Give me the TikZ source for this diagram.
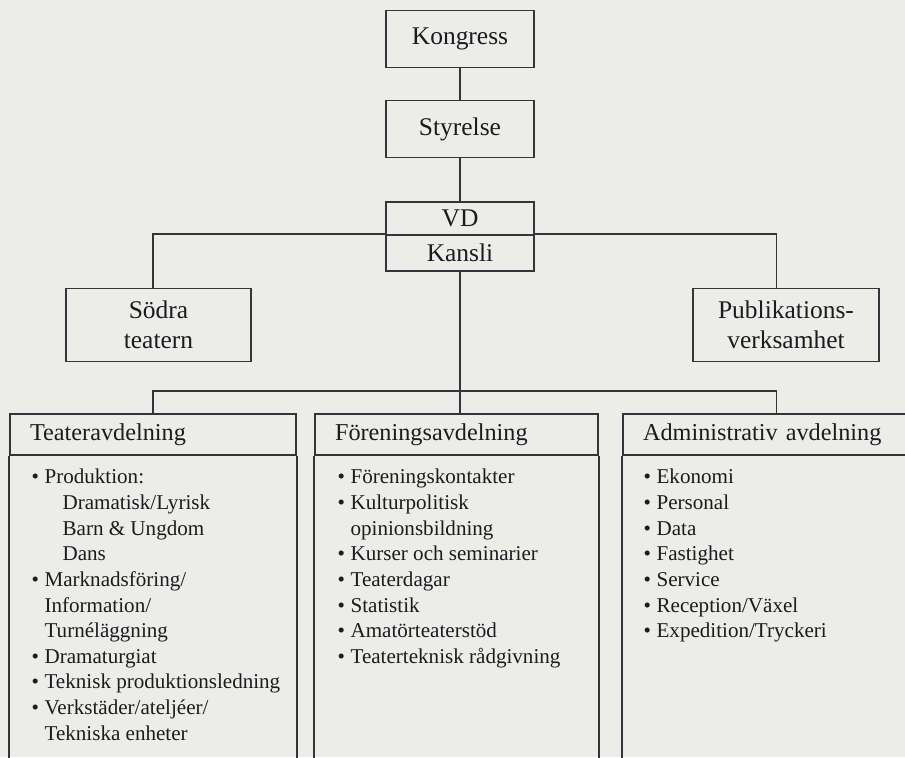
\documentclass[tikz,border=0pt]{standalone}
\usepackage{fontspec}
\setmainfont{Liberation Serif}
\usetikzlibrary{positioning}

\definecolor{paper}{RGB}{236,236,233}
\definecolor{ink}{RGB}{30,26,32}
\definecolor{rule}{RGB}{56,50,60}

\newcommand{\bul}{\makebox[0.26cm][l]{\textbullet}}
\newcommand{\cont}{\hspace*{0.26cm}}
\newcommand{\subind}{\hspace*{0.62cm}}

\begin{document}
\begin{tikzpicture}[x=0.02cm,y=-0.02cm]
  \tikzstyle{unit}=[rectangle,draw=rule,line width=0.9pt,minimum width=2.96cm,inner sep=0pt,
    text=ink,font=\fontsize{14.5}{17}\selectfont,align=center]
  \tikzstyle{head}=[rectangle,draw=rule,line width=0.9pt,minimum height=0.82cm,inner xsep=0.4cm,
    inner ysep=0pt,text=ink,font=\fontsize{13.8}{16}\selectfont,align=left]
  \tikzstyle{items}=[anchor=north west,inner sep=0pt,text=ink,font=\fontsize{12}{14.6}\selectfont,align=left]
  \tikzstyle{link}=[draw=rule,line width=0.9pt]

  \useasboundingbox (0,0) rectangle (905,757);
  \fill[paper] (0,0) rectangle (905,757);
  \clip (0,0) rectangle (905,757);

  % ledning
  \node[unit,minimum height=1.14cm] (kongress) at (460,39) {Kongress};
  \node[unit,minimum height=1.14cm] (styrelse) at (460,129) {Styrelse};
  \node[unit,minimum height=0.66cm] (vd) at (460,218.5) {VD};
  \node[unit,minimum height=0.72cm] (kansli) at (460,253) {Kansli};
  \node[unit,minimum width=3.7cm,minimum height=1.46cm] (sodra) at (158.5,325) {Södra\\teatern};
  \node[unit,minimum width=3.72cm,minimum height=1.46cm] (publ) at (786,325) {Publikations-\\verksamhet};

  % avdelningar
  \node[head,text width=4.92cm] (teaterhead) at (153,434.5) {Teateravdelning};
  \node[head,text width=4.86cm] (forhead) at (456.5,434.5) {Föreningsavdelning};
  \node[head,text width=5.34cm] (adminhead) at (776.5,434.5) {Administrativ avdelning};
  \foreach \d in {teaterhead,forhead,adminhead} {
    \draw[link] (\d.south west) -- ++(0,340);
    \draw[link] (\d.south east) -- ++(0,340);
  }

  \node[items] (teaterlist) at ([xshift=0.44cm,yshift=-0.26cm]teaterhead.south west)
    {\bul Produktion:\\
     \subind Dramatisk/Lyrisk\\
     \subind Barn \& Ungdom\\
     \subind Dans\\
     \bul Marknadsföring/\\
     \cont Information/\\
     \cont Turnéläggning\\
     \bul Dramaturgiat\\
     \bul Teknisk produktionsledning\\
     \bul Verkstäder/ateljéer/\\
     \cont Tekniska enheter};
  \node[items] (forlist) at ([xshift=0.46cm,yshift=-0.26cm]forhead.south west)
    {\bul Föreningskontakter\\
     \bul Kulturpolitisk\\
     \cont opinionsbildning\\
     \bul Kurser och seminarier\\
     \bul Teaterdagar\\
     \bul Statistik\\
     \bul Amatörteaterstöd\\
     \bul Teaterteknisk rådgivning};
  \node[items] (adminlist) at ([xshift=0.42cm,yshift=-0.26cm]adminhead.south west)
    {\bul Ekonomi\\
     \bul Personal\\
     \bul Data\\
     \bul Fastighet\\
     \bul Service\\
     \bul Reception/Växel\\
     \bul Expedition/Tryckeri};

  % linjer
  \coordinate (bus) at (460,391);
  \draw[link] (kongress) -- (styrelse);
  \draw[link] (styrelse) -- (vd);
  \draw[link] (kansli.north west) -| (sodra.north -| teaterhead.north);
  \draw[link] (kansli.north east) -| (publ.north -| adminhead.north);
  \draw[link] (kansli.south) -- (kansli.south |- forhead.north);
  \draw[link] (teaterhead.north) |- (bus) -| (adminhead.north);
\end{tikzpicture}
\end{document}
